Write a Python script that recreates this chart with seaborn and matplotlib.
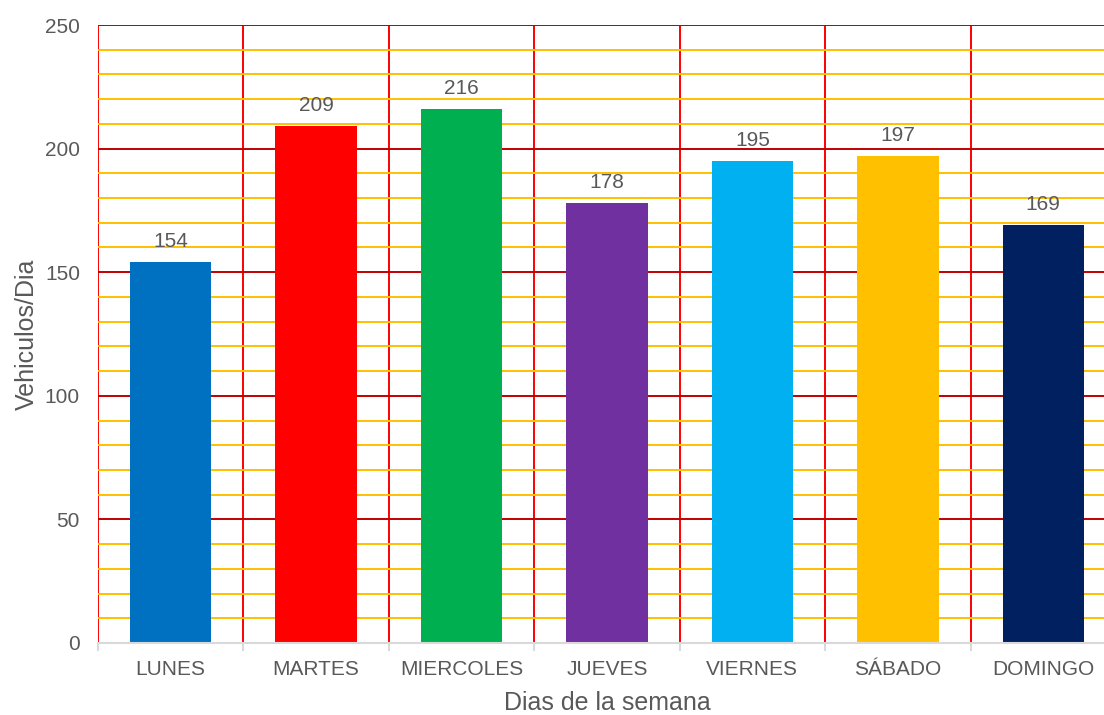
import matplotlib
matplotlib.use("Agg")
import matplotlib.pyplot as plt
import seaborn as sns
import pandas as pd
import numpy as np

dias = ["LUNES", "MARTES", "MIERCOLES", "JUEVES", "VIERNES", "SÁBADO", "DOMINGO"]
vehiculos = [154, 209, 216, 178, 195, 197, 169]
colores = ["#0070C0", "#FF0000", "#00B050", "#7030A0", "#00B0F0", "#FFC000", "#002060"]

sns.set_theme(style="white")
plt.rcParams["font.family"] = ["Liberation Sans", "DejaVu Sans"]

df = pd.DataFrame({"dia": dias, "vehiculos": vehiculos})

fig = plt.figure(figsize=(11.04, 7.15), dpi=100)
ax = fig.add_axes([0.0888, 0.1007, 0.922, 0.8643])

sns.barplot(data=df, x="dia", y="vehiculos", hue="dia", palette=colores,
            width=0.56, legend=False, saturation=1, linewidth=0, edgecolor="none",
            ax=ax, zorder=3)

text_color = "#595959"
ax.set_xlim(-0.5, len(dias) - 0.5)
ax.set_ylim(0, 250)
ax.set_yticks(np.arange(0, 251, 50))
ax.set_yticks(np.arange(0, 251, 10), minor=True)
ax.set_xticks(np.arange(-0.5, len(dias), 1.0), minor=True)

ax.set_axisbelow(True)
ax.grid(False)
ax.grid(which="minor", axis="y", color="#FFC000", linewidth=1.4, zorder=0)
ax.grid(which="major", axis="y", color="#C00000", linewidth=1.4, zorder=1)
ax.grid(which="minor", axis="x", color="#FF0000", linewidth=1.4, zorder=1)

for side in ["top", "right", "left"]:
    ax.spines[side].set_visible(False)
ax.spines["bottom"].set_color("#D9D9D9")
ax.spines["bottom"].set_linewidth(1.5)
ax.spines["bottom"].set_zorder(4)

ax.tick_params(axis="x", which="major", length=0, pad=12, labelsize=15, labelcolor=text_color)
ax.tick_params(axis="x", which="minor", length=6, width=1.5, color="#D9D9D9", direction="out", bottom=True)
ax.tick_params(axis="y", which="both", length=0, pad=13, labelsize=15, labelcolor=text_color)

for i, v in enumerate(vehiculos):
    ax.text(i, v + 4.5, str(v), ha="center", va="bottom", fontsize=15, color=text_color, zorder=5)

ax.set_xlabel("Dias de la semana", fontsize=18, color=text_color, labelpad=9)
ax.set_ylabel("Vehiculos/Dia", fontsize=18, color=text_color)
ax.yaxis.set_label_coords(-0.058, 0.5)

fig.savefig("out.png", dpi=100)
